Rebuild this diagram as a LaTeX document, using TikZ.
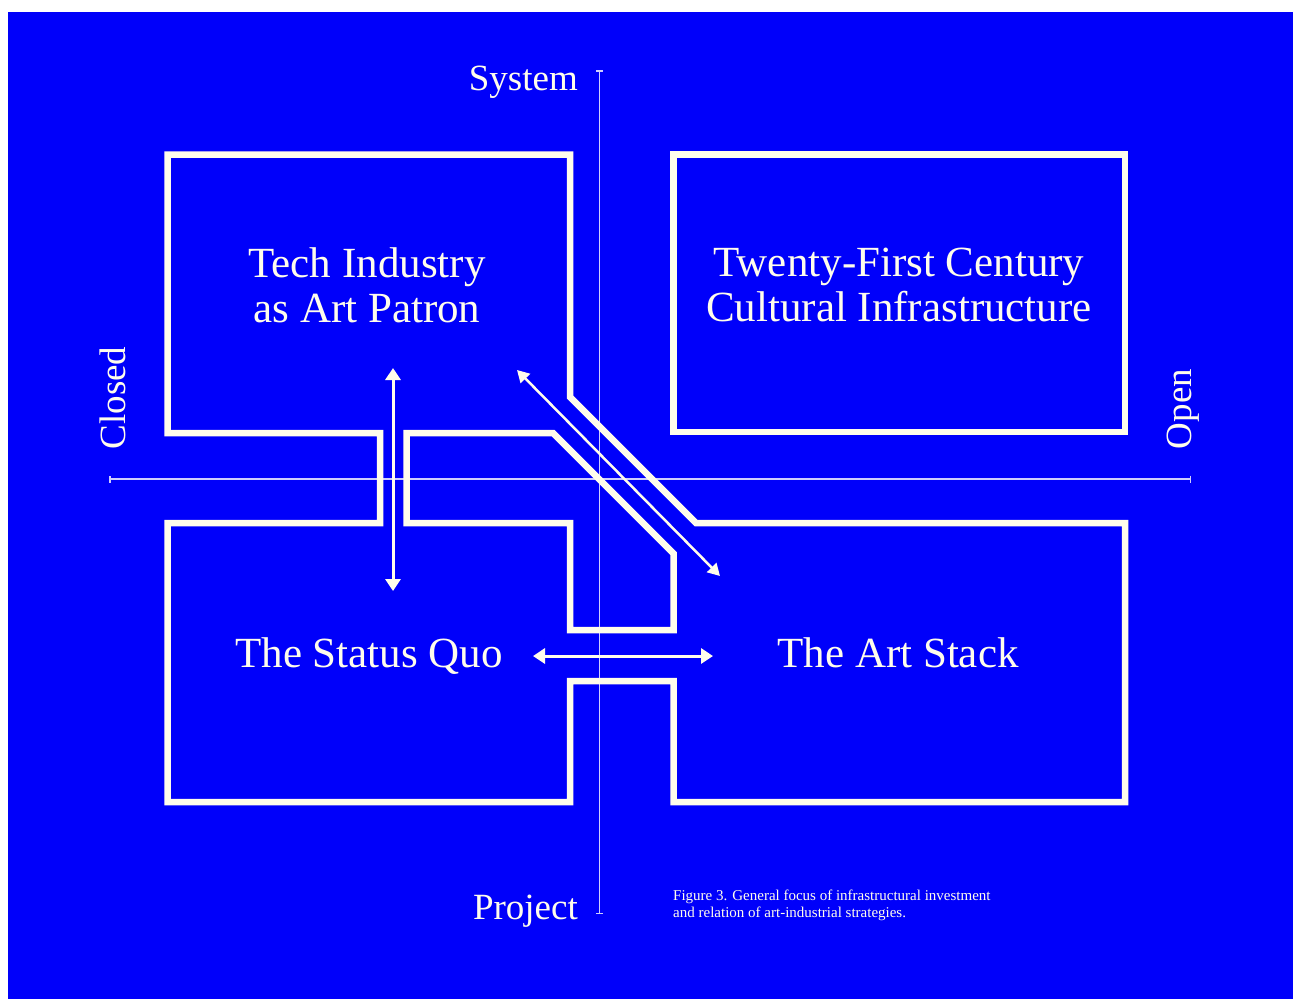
\documentclass[tikz,border=0pt]{standalone}
\usepackage{fontspec}
\setmainfont{Liberation Serif}
\usetikzlibrary{arrows.meta}
\definecolor{slideblue}{RGB}{0,0,250}
\definecolor{cream}{RGB}{255,253,236}
\definecolor{axisline}{RGB}{205,205,255}
\begin{document}
\begin{tikzpicture}
[x=1pt,y=-1pt,
every node/.style={text=cream,inner sep=0pt},
wall/.style={draw=cream,line width=6.5pt},
axis/.style={draw=axisline,line width=1.5pt,{Bar[width=7pt]}-{Bar[width=7pt]}},
link/.style={draw=cream,line width=3pt,{Triangle[width=15pt,length=12pt]}-{Triangle[width=15pt,length=12pt]}},
thinlink/.style={draw=cream,line width=2.5pt,{Triangle[width=13pt,length=12pt]}-{Triangle[width=13pt,length=12pt]}},
title/.style={font=\fontsize{43}{45}\selectfont,align=center},
pole/.style={font=\fontsize{37}{40}\selectfont},
note/.style={font=\fontsize{15}{17}\selectfont,align=left}
]
\useasboundingbox (0,0) rectangle (1301,999);
\fill[slideblue] (8,12) rectangle (1293,999);
\coordinate (systemend) at (599.5,70);
\coordinate (projectend) at (599.5,914);
\coordinate (closedend) at (109,479);
\coordinate (openend) at (1191,479);
\draw[axis] (systemend) -- (projectend);
\draw[axis] (closedend) -- (openend);
\draw[wall] (167.5,154.5) -- (570,154.5) -- (570,397) -- (696,523) -- (1125,523) -- (1125,802)
-- (673.5,802) -- (673.5,681) -- (570,681) -- (570,802) -- (167.5,802) -- (167.5,523)
-- (380,523) -- (380,433) -- (167.5,433) -- cycle;
\draw[wall] (406.5,433) -- (553,433) -- (673.5,553.5) -- (673.5,630) -- (570,630) -- (570,523)
-- (406.5,523) -- cycle;
\draw[wall] (673.5,154.5) rectangle (1125,432);
\node[title] (techpatron) at (367,285) {Tech Industry\\as Art Patron};
\node[title] (culture) at (899,285) {Twenty-First Century\\Cultural Infrastructure};
\node[title,anchor=base] (statusquo) at (369,667) {The Status Quo};
\node[title,anchor=base] (artstack) at (898,667) {The Art Stack};
\node[pole,anchor=base east] (system) at (578,90) {System};
\node[pole,anchor=base east] (project) at (578,919) {Project};
\node[pole,rotate=90] (closed) at (113,398) {Closed};
\node[pole,rotate=90] (open) at (1183,409) {Open};
\node[note,anchor=west] (caption) at (673,905) {Figure 3. General focus of infrastructural investment\\and relation of art-industrial strategies.};
\coordinate (patrontop) at (393,368);
\coordinate (quotop) at (393,591);
\coordinate (quoright) at (533,656);
\coordinate (stackleft) at (713,656);
\coordinate (patrondiag) at (517,370);
\coordinate (stackdiag) at (720,576);
\draw[link] (patrontop) -- (quotop);
\draw[link] (quoright) -- (stackleft);
\draw[thinlink] (patrondiag) -- (stackdiag);
\end{tikzpicture}
\end{document}
